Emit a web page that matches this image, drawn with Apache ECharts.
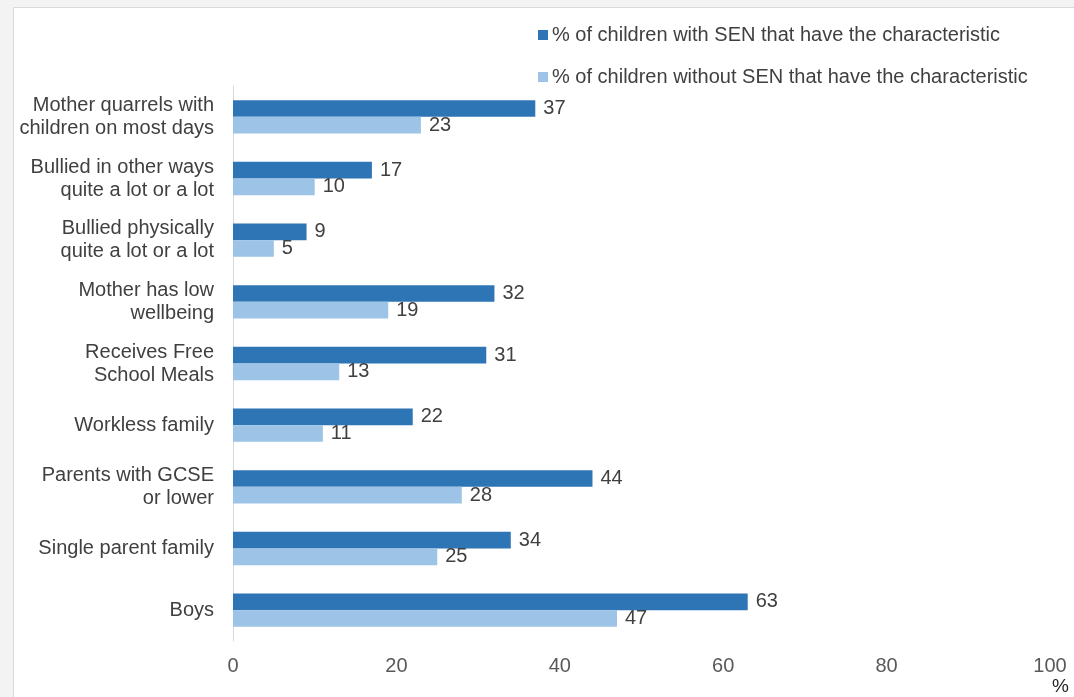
<!DOCTYPE html>
<html><head><meta charset="utf-8">
<script src="https://cdn.jsdelivr.net/npm/echarts@6/dist/echarts.min.js"></script>
<style>html,body{margin:0;padding:0;background:#f3f3f3;}#c{width:1074px;height:697px;}</style>
</head><body><div id="c"></div>
<script>
const categories = ["Boys","Single parent family","Parents with GCSE\nor lower","Workless family","Receives Free\nSchool Meals","Mother has low\nwellbeing","Bullied physically\nquite a lot or a lot","Bullied in other ways\nquite a lot or a lot","Mother quarrels with\nchildren on most days"];
const withSEN = [63,34,44,22,31,32,9,17,37];
const withoutSEN = [47,25,28,11,13,19,5,10,23];
const seriesNames = ["% of children with SEN that have the characteristic","% of children without SEN that have the characteristic"];
const xTicks = {min:0,max:100,interval:20};

const chart = echarts.init(document.getElementById('c'), null, {renderer:'canvas'});
const font = '"Liberation Sans", Arial, sans-serif';
const lbl = {show:true, position:'right', distance:8, color:'#404040', fontSize:20, fontFamily:font};
chart.setOption({
  backgroundColor:'#f3f3f3',
  animation:false,
  graphic:[
    {type:'rect', z:-10, shape:{x:13.5,y:7.5,width:1080,height:720}, style:{fill:'#ffffff', stroke:'#d9d9d9', lineWidth:1}},
    {type:'text', left:1052, top:677, style:{text:'%', fill:'#262626', font:'19px '+font}}
  ],
  legend:{
    orient:'vertical', left:533, top:20, itemWidth:10, itemHeight:10, itemGap:22,
    icon:'rect',
    textStyle:{color:'#404040', fontSize:20, fontFamily:font, padding:[0,0,0,-1]},
    data:seriesNames
  },
  grid:{left:233, right:24, top:86, bottom:56, containLabel:false},
  xAxis:{type:'value', min:xTicks.min, max:xTicks.max, interval:xTicks.interval,
    axisLine:{show:false}, axisTick:{show:false}, splitLine:{show:false},
    axisLabel:{color:'#595959', fontSize:20, fontFamily:font, margin:15}},
  yAxis:{type:'category', data:categories,
    axisLine:{show:true, lineStyle:{color:'#d9d9d9', width:1}}, axisTick:{show:false},
    axisLabel:{color:'#404040', fontSize:20, fontFamily:font, margin:19, lineHeight:23, align:'right'}},
  series:[
    {name:seriesNames[0], type:'bar', data:withSEN, itemStyle:{color:'#2E75B6'}, barGap:'0%', barCategoryGap:'46%', label:lbl},
    {name:seriesNames[1], type:'bar', data:withoutSEN, itemStyle:{color:'#9DC3E6'}, barGap:'0%', barCategoryGap:'46%', label:lbl}
  ]
});
</script></body></html>
